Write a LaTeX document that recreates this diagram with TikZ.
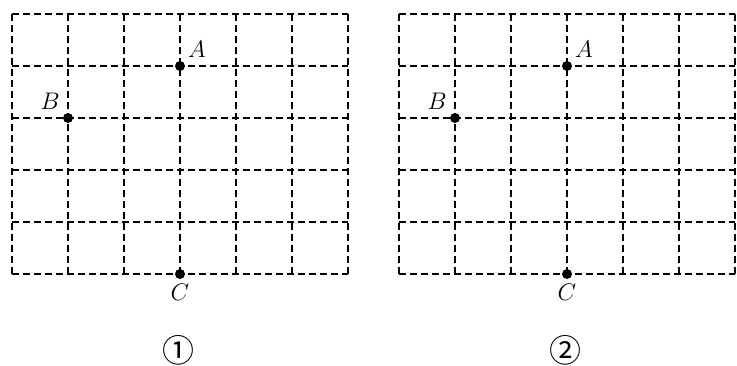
\documentclass[tikz,border=0pt]{standalone}
\usepackage{fontspec}
\newfontfamily\cjkfont{Noto Sans CJK SC}
\usetikzlibrary{positioning}

\begin{document}
\begin{tikzpicture}[
        x=0.5pt, y=0.5pt,
        gridline/.style={dash pattern=on 3.5pt off 2pt, line width=0.8pt},
        dot/.style={circle, fill, inner sep=0pt, minimum size=5pt},
        letter/.style={font=\large, inner sep=2pt},
        tag/.style={font=\cjkfont\fontsize{16}{18}\selectfont}
    ]
        \useasboundingbox (0,0) rectangle (737,365);

        \foreach \k/\dx/\num in {1/0/①, 2/387/②} {
        \begin{scope}[shift={(\dx,0)}]
            % grid
            \foreach \i in {0,...,6}
                \draw[gridline] (12+\i*56, 91) -- (12+\i*56, 351);
            \foreach \j in {0,...,5}
                \draw[gridline] (12, 91+\j*52) -- (348, 91+\j*52);

            \node[dot] (A\k) at (180, 299) {};
            \node[dot] (B\k) at (68, 247) {};
            \node[dot] (C\k) at (180, 91) {};

            \node[letter, above right=0pt of A\k] {$A$};
            \node[letter, above left=0pt of B\k] {$B$};
            \node[letter, below=0pt of C\k] {$C$};

            \node[tag] (n\k) at (178, 15) {\num};
        \end{scope}
        }
    \end{tikzpicture}
\end{document}
